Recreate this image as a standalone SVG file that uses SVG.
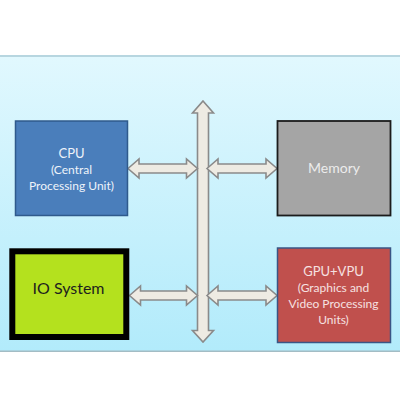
<svg xmlns="http://www.w3.org/2000/svg" width="400" height="400" viewBox="0 0 400 400">
<defs>
<linearGradient id="bg" x1="0" y1="0" x2="0" y2="1">
<stop offset="0" stop-color="#e1f8fe"/>
<stop offset="1" stop-color="#b2ebfb"/>
</linearGradient>
</defs>
<style>
.arrow{fill:#eeebe3;stroke:#8a8a8a;stroke-width:1.6;stroke-linejoin:miter}
.t{font-family:Lato,"Open Sans","Liberation Sans",sans-serif;text-anchor:middle}
</style>
<rect width="400" height="400" fill="#ffffff"/>
<rect x="0" y="56" width="400" height="295" fill="url(#bg)"/>
<rect x="0" y="55" width="400" height="2" fill="#b7d6e0"/>
<rect x="0" y="350.5" width="400" height="1.5" fill="#a3bcc4"/>
<g id="connectors">
<polygon class="arrow" points="203,101 213.5,113 208.5,113 208.5,330.5 213.5,330.5 203,342 192.5,330.5 197.5,330.5 197.5,113 192.5,113"/>
<polygon class="arrow" points="128,168.5 139,159 139,164 186.5,164 186.5,159 197.5,168.5 186.5,178 186.5,173 139,173 139,178"/>
<polygon class="arrow" points="207,168.5 218,159 218,164 266,164 266,159 277,168.5 266,178 266,173 218,173 218,178"/>
<polygon class="arrow" points="129.5,295.5 140.5,286 140.5,291 186.5,291 186.5,286 197.5,295.5 186.5,305 186.5,300 140.5,300 140.5,305"/>
<polygon class="arrow" points="207,295.5 218,286 218,291 266,291 266,286 277,295.5 266,305 266,300 218,300 218,305"/>
</g>
<g id="cpu">
<rect x="15.5" y="121" width="112" height="94.5" fill="#4a7ebb" stroke="#2f5a8c" stroke-width="1.5"/>
<text class="t" x="71.5" y="157.5" font-size="13" fill="#eef3fa">CPU</text>
<text class="t" x="71.5" y="173.5" font-size="12" fill="#eef3fa">(Central</text>
<text class="t" x="71.5" y="190" font-size="12" fill="#eef3fa">Processing Unit)</text>
</g>
<g id="memory">
<rect x="277.5" y="121" width="113" height="94.5" fill="#a5a5a5" stroke="#1c1c1c" stroke-width="1.8"/>
<text class="t" x="334" y="172.5" font-size="14" fill="#ececec">Memory</text>
</g>
<g id="io">
<rect x="12.3" y="251.3" width="114" height="85.7" fill="#b4e11e" stroke="#000000" stroke-width="6"/>
<text class="t" x="68.5" y="293.5" font-size="16" fill="#1e1e1e">IO System</text>
</g>
<g id="gpu">
<rect x="277.5" y="248" width="113" height="94.5" fill="#c0504d" stroke="#3a5585" stroke-width="1.5"/>
<text class="t" x="333.5" y="276" font-size="13" fill="#f6e1e1">GPU+VPU</text>
<text class="t" x="333.5" y="292" font-size="12" fill="#f6e1e1">(Graphics and</text>
<text class="t" x="333.5" y="307.5" font-size="12" fill="#f6e1e1">Video Processing</text>
<text class="t" x="333.5" y="324" font-size="12" fill="#f6e1e1">Units)</text>
</g>
</svg>
